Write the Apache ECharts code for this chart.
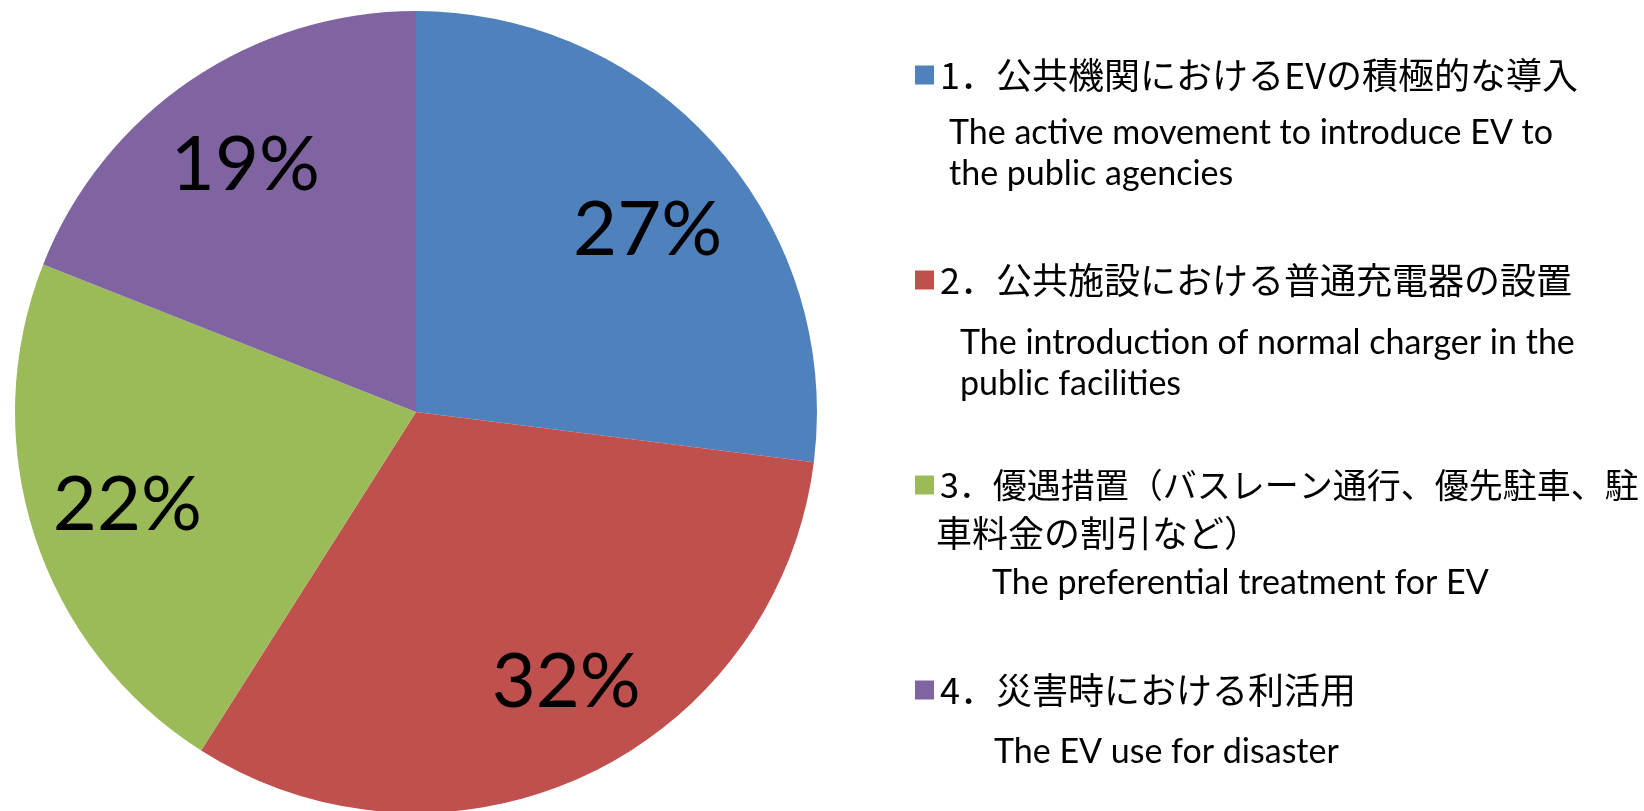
<!DOCTYPE html>
<html>
<head>
<meta charset="utf-8">
<style>
  html, body { margin: 0; padding: 0; background: #fff; }
  #chart { width: 1644px; height: 811px; }
</style>
<script src="https://cdn.jsdelivr.net/npm/echarts@6/dist/echarts.min.js"></script>
</head>
<body>
<div id="chart"></div>
<script>
// categories, the line break marks where the reference wraps the text
const categories = [
    '1．公共機関におけるEVの積極的な導入',
    '2．公共施設における普通充電器の設置',
    '3．優遇措置（バスレーン通行、優先駐車、駐\n車料金の割引など）',
    '4．災害時における利活用'
]
const englishLabels = [
    'The active movement to introduce EV to\nthe public agencies',
    'The introduction of normal charger in the\npublic facilities',
    'The preferential treatment for EV',
    'The EV use for disaster'
]
const values = [27, 32, 22, 19]
const colors = ['#4F81BD', '#C0504D', '#9BBB59', '#8064A2']

const chart = echarts.init(document.getElementById('chart'))

const pieData = categories.map((name, i) => ({ name: name, value: values[i] }))

// text under each legend entry (second JP line and the English translation)
const subTexts = [
    { x: 949, y: 113, text: englishLabels[0], font: 'en' },
    { x: 960, y: 323, text: englishLabels[1], font: 'en' },
    { x: 936, y: 515, text: categories[2].split('\n')[1], font: 'jp' },
    { x: 992, y: 563, text: englishLabels[2], font: 'en' },
    { x: 994, y: 732, text: englishLabels[3], font: 'en' }
]

// excel does not put every label exactly on the mid angle
const labelNudge = { 0: [4, 19], 1: [21, -4], 3: [0, 5] }

const option = {
    animation: false,
    color: colors,
    legend: {
        orient: 'vertical',
        left: 910,
        top: 52,
        icon: 'rect',
        itemWidth: 19,
        itemHeight: 19,
        itemGap: 169,
        selectedMode: false,
        // the long third line is set a bit tighter so it ends at the page edge
        data: categories.map((name, i) => i === 2
            ? { name: name, textStyle: { fontSize: 34 } }
            : name),
        formatter (name) {
            return name.split('\n')[0]
        },
        textStyle: {
            fontFamily: 'Noto Sans CJK JP',
            fontSize: 36,
            lineHeight: 36,
            color: '#000',
            padding: [0, 0, 0, 1]
        }
    },
    graphic: subTexts.map(t => ({
        type: 'text',
        left: t.x,
        top: t.y,
        silent: true,
        style: {
            text: t.text,
            fill: '#000',
            fontFamily: t.font === 'en' ? 'Lato' : 'Noto Sans CJK JP',
            fontSize: t.font === 'en' ? 34 : 36,
            lineHeight: t.font === 'en' ? 41 : 36
        }
    })),
    series: [
        {
            type: 'pie',
            center: [416, 412],
            radius: [0, 401],
            startAngle: 90,
            clockwise: true,
            label: { show: false },
            labelLine: { show: false },
            itemStyle: { borderWidth: 0 },
            emphasis: { disabled: true },
            data: pieData
        },
        {
            // transparent ring only used to put the labels at 3/4 of the radius
            type: 'pie',
            center: [416, 412],
            radius: [200, 401],
            startAngle: 90,
            clockwise: true,
            silent: true,
            itemStyle: { color: 'rgba(0,0,0,0)', borderWidth: 0 },
            emphasis: { disabled: true },
            labelLine: { show: false },
            label: {
                show: true,
                position: 'inside',
                formatter: '{c}%',
                fontFamily: 'Lato',
                fontSize: 76,
                color: '#000'
            },
            labelLayout (params) {
                const n = labelNudge[params.dataIndex]
                return n ? { dx: n[0], dy: n[1] } : {}
            },
            data: pieData
        }
    ]
}

chart.setOption(option)
window.addEventListener('resize', () => chart.resize())
</script>
</body>
</html>
